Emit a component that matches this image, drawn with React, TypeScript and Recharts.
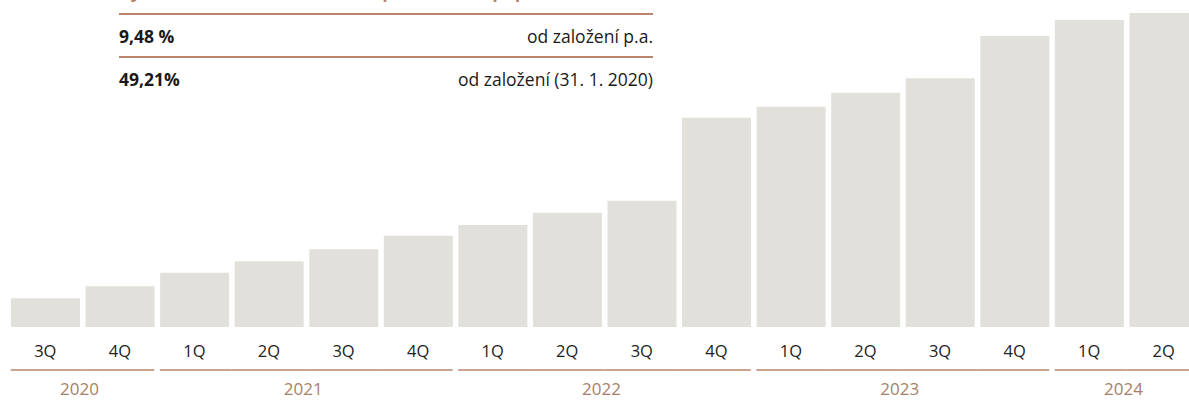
import React from "react";
import { Bar, BarChart, XAxis, YAxis } from "recharts";

// quarterly cumulative performance since inception (%)
const periods = [
  "2020 3Q", "2020 4Q",
  "2021 1Q", "2021 2Q", "2021 3Q", "2021 4Q",
  "2022 1Q", "2022 2Q", "2022 3Q", "2022 4Q",
  "2023 1Q", "2023 2Q", "2023 3Q", "2023 4Q",
  "2024 1Q", "2024 2Q",
];
const quarterLabels = ["3Q", "4Q", "1Q", "2Q", "3Q", "4Q", "1Q", "2Q", "3Q", "4Q", "1Q", "2Q", "3Q", "4Q", "1Q", "2Q"];
const yearLabels = ["2020", "2020", "2021", "2021", "2021", "2021", "2022", "2022", "2022", "2022", "2023", "2023", "2023", "2023", "2024", "2024"];
const cumulativeReturn = [4.5, 6.4, 8.5, 10.3, 12.2, 14.3, 16.0, 17.9, 19.8, 32.8, 34.5, 36.7, 39.0, 45.6, 48.1, 49.21];

const summaryValues = ["9,48 %", "49,21%"];
const summaryLabels = ["od založení p.a.", "od založení (31. 1. 2020)"];
const titleText = "Výkonnost fondu od založení po odečtení poplatků";

const BAR_COLOR = "#e1e0db";
const RULE_COLOR = "#b9846c";
const YEAR_COLOR = "#a97e68";
const FONT = "'Open Sans', Lato, sans-serif";
const BAR_SIZE = 69;

const data = periods.map((period, i) => ({
  period,
  quarter: quarterLabels[i],
  year: yearLabels[i],
  value: cumulativeReturn[i],
}));

function QuarterTick({ x, y, payload }: any) {
  const label = quarterLabels[payload.index] ?? "";
  return (
    <text x={x} y={y} dy={22} textAnchor="middle" fill="#222" fontSize={16.5} fontFamily={FONT}>
      {label}
    </text>
  );
}

function YearTick({ x, y, payload }: any) {
  const i = payload.index;
  const half = payload.offset || 37;
  const gap = Math.max(0, half - BAR_SIZE / 2);
  const yr = yearLabels[i];
  const isFirst = i === 0 || yearLabels[i - 1] !== yr;
  const isLast = i === yearLabels.length - 1 || yearLabels[i + 1] !== yr;
  const count = yearLabels.filter((v) => v === yr).length;
  const lineY = y + 5;
  return (
    <g>
      <line
        x1={x - half + (isFirst ? gap : 0)}
        x2={x + half - (isLast ? gap : 0)}
        y1={lineY}
        y2={lineY}
        stroke={RULE_COLOR}
        strokeWidth={1.6}
      />
      {isFirst && (
        <text
          x={x + (count - 1) * half - 3}
          y={lineY}
          dy={25}
          textAnchor="middle"
          fill={YEAR_COLOR}
          fontSize={17}
          fontFamily={FONT}
        >
          {yr}
        </text>
      )}
    </g>
  );
}

export default function App() {
  return (
    <div
      style={{
        position: "fixed",
        left: 0,
        top: 0,
        width: 1189,
        height: 400,
        overflow: "hidden",
        background: "#fff",
        fontFamily: FONT,
      }}
    >
      <BarChart
        width={1201}
        height={400}
        data={data}
        margin={{ top: 13, right: 0, left: 8, bottom: 0 }}
        barSize={BAR_SIZE}
      >
        <XAxis
          dataKey="period"
          height={30}
          axisLine={false}
          tickLine={false}
          interval={0}
          tick={<QuarterTick />}
        />
        <XAxis
          xAxisId="year"
          dataKey="period"
          height={43}
          axisLine={false}
          tickLine={false}
          interval={0}
          tick={<YearTick />}
        />
        <YAxis hide domain={[0, "dataMax"]} />
        <Bar dataKey="value" fill={BAR_COLOR} isAnimationActive={false} />
      </BarChart>

      <div
        style={{
          position: "absolute",
          left: 119,
          top: -21,
          color: RULE_COLOR,
          fontWeight: 700,
          fontSize: 18,
          lineHeight: "24px",
          whiteSpace: "nowrap",
        }}
      >
        {titleText}
      </div>
      <div style={{ position: "absolute", left: 119, top: 13, width: 534 }}>
        {summaryValues.map((v, i) => (
          <div
            key={v}
            style={{
              borderTop: `2px solid ${RULE_COLOR}`,
              height: 41,
              display: "flex",
              justifyContent: "space-between",
              alignItems: "center",
              color: "#1a1a1a",
              fontSize: 17.5,
            }}
          >
            <span style={{ fontWeight: 700 }}>{v}</span>
            <span>{summaryLabels[i]}</span>
          </div>
        ))}
      </div>
    </div>
  );
}
